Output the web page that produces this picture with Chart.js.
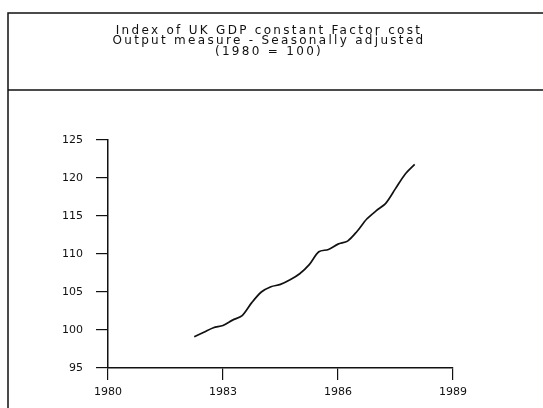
<!DOCTYPE html>
<html>
<head>
<meta charset="utf-8">
<script src="https://cdn.jsdelivr.net/npm/chart.js@4"></script>
<style>
  html, body { margin: 0; padding: 0; background: #fff; }
  #wrap { position: relative; width: 543px; height: 408px; }
</style>
</head>
<body>
<div id="wrap"><canvas id="c" width="543" height="408"></canvas></div>
<script>
// quarterly index, 1980 = 100
const quarters = [
  1982.25, 1982.5, 1982.75, 1983.0, 1983.25, 1983.5, 1983.75, 1984.0,
  1984.25, 1984.5, 1984.75, 1985.0, 1985.25, 1985.5, 1985.75, 1986.0,
  1986.25, 1986.5, 1986.75, 1987.0, 1987.25, 1987.5, 1987.75, 1988.0,
];
const gdpIndex = [
  99.1, 99.7, 100.3, 100.6, 101.3, 101.9, 103.6, 105.0,
  105.7, 106.0, 106.6, 107.4, 108.6, 110.3, 110.6, 111.3,
  111.7, 113.0, 114.6, 115.7, 116.7, 118.6, 120.5, 121.8,
];
const yearTicks = [1980, 1983, 1986, 1989];
const indexTicks = [95, 100, 105, 110, 115, 120, 125];
const titleLines = [
  'Index of UK GDP constant Factor cost',
  'Output measure - Seasonally adjusted',
  '(1980 = 100)',
];

const INK = '#111';

// page frame, title block and the rule under it
const framePlugin = {
  id: 'frame',
  beforeDraw(chart) {
    const ctx = chart.ctx;
    ctx.save();
    ctx.strokeStyle = INK;
    ctx.lineWidth = 1.5;
    ctx.beginPath();
    ctx.moveTo(8, 408);
    ctx.lineTo(8, 13);
    ctx.lineTo(543, 13);
    ctx.moveTo(8, 90);
    ctx.lineTo(543, 90);
    ctx.stroke();

    ctx.fillStyle = INK;
    ctx.font = '12px "DejaVu Sans"';
    ctx.letterSpacing = '2.3px';
    ctx.textAlign = 'center';
    ctx.textBaseline = 'middle';
    titleLines.forEach((line, i) => ctx.fillText(line, 269, 30.5 + i * 10.5));
    ctx.restore();
  },
};

const ctx = document.getElementById('c');
new Chart(ctx, {
  type: 'line',
  data: {
    datasets: [{
      data: quarters.map((q, i) => ({ x: q, y: gdpIndex[i] })),
      borderColor: INK,
      borderWidth: 1.7,
      pointRadius: 0,
      tension: 0.3,
      fill: false,
    }],
  },
  options: {
    responsive: false,
    animation: false,
    events: [],
    layout: { padding: { left: 0, right: 90, top: 140, bottom: 0 } },
    plugins: {
      legend: { display: false },
      tooltip: { enabled: false },
      title: { display: false },
    },
    scales: {
      x: {
        type: 'linear',
        min: 1980,
        max: 1989,
        afterBuildTicks(axis) { axis.ticks = yearTicks.map((v) => ({ value: v })); },
        afterFit(axis) { axis.height = 40; },
        border: { display: true, color: INK, width: 1.5 },
        grid: { drawOnChartArea: false, drawTicks: true, tickLength: 12, color: INK, lineWidth: 1.2 },
        ticks: {
          color: INK,
          padding: 6,
          maxRotation: 0,
          font: { family: 'DejaVu Sans', size: 11 },
          callback: (v) => String(v),
        },
      },
      y: {
        min: 95,
        max: 125,
        afterBuildTicks(axis) { axis.ticks = indexTicks.map((v) => ({ value: v })); },
        afterFit(axis) { axis.width = 108; },
        border: { display: true, color: INK, width: 1.5 },
        grid: { drawOnChartArea: false, drawTicks: true, tickLength: 12, color: INK, lineWidth: 1.2 },
        ticks: { color: INK, padding: 13, font: { family: 'DejaVu Sans', size: 11 } },
      },
    },
  },
  plugins: [framePlugin],
});
</script>
</body>
</html>
